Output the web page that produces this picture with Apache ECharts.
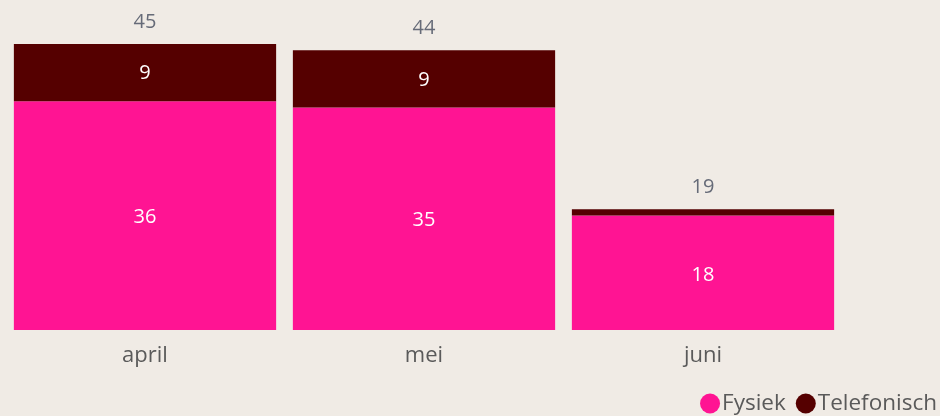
<!DOCTYPE html>
<html><head><meta charset="utf-8">
<script src="https://cdn.jsdelivr.net/npm/echarts@6/dist/echarts.min.js"></script>
<style>html,body{margin:0;padding:0;background:#f0ebe5}#c{width:940px;height:416px}</style>
</head><body><div id="c"></div>
<script>
var categories = ['april', 'mei', 'juni'];
var fysiek = [36, 35, 18];
var telefonisch = [9, 9, 1];
var totals = categories.map(function (_, i) { return fysiek[i] + telefonisch[i]; });

var chart = echarts.init(document.getElementById('c'));
var font = '"Open Sans", sans-serif';
chart.setOption({
  backgroundColor: '#f0ebe5',
  animation: false,
  textStyle: { fontFamily: font },
  grid: { left: 5.5, right: 97.5, top: 44, bottom: 86, containLabel: false },
  legend: {
    data: ['Fysiek', 'Telefonisch'],
    right: 3, top: 392, padding: 0,
    icon: 'circle', itemWidth: 20, itemHeight: 20, itemGap: 10,
    textStyle: { color: '#5a5a5a', fontSize: 22.5, fontFamily: font, padding: [0, 0, 0, -3] }
  },
  xAxis: {
    type: 'category', data: categories,
    axisLine: { show: false }, axisTick: { show: false },
    axisLabel: { color: '#5a5a5a', fontSize: 22, margin: 15, fontFamily: font }
  },
  yAxis: { type: 'value', min: 0, max: 45, show: false },
  series: [
    { name: 'Fysiek', type: 'bar', stack: 's', data: fysiek, barCategoryGap: '6%',
      itemStyle: { color: '#ff1493' },
      label: { show: true, position: 'inside', offset: [0, 2], color: '#fff', fontSize: 20, fontFamily: font } },
    { name: 'Telefonisch', type: 'bar', stack: 's', data: telefonisch,
      itemStyle: { color: '#550000' },
      label: { show: true, position: 'inside', offset: [0, 1], color: '#fff', fontSize: 20, fontFamily: font,
        formatter: function (p) { return p.value >= 3 ? p.value : ''; } } },
    { name: 'Totaal', type: 'bar', stack: 's', data: categories.map(function () { return 0; }),
      itemStyle: { color: 'transparent' },
      label: { show: true, position: 'top', distance: 12, color: '#666b78', fontSize: 20, fontFamily: font,
        formatter: function (p) { return totals[p.dataIndex]; } } }
  ]
});
</script></body></html>
